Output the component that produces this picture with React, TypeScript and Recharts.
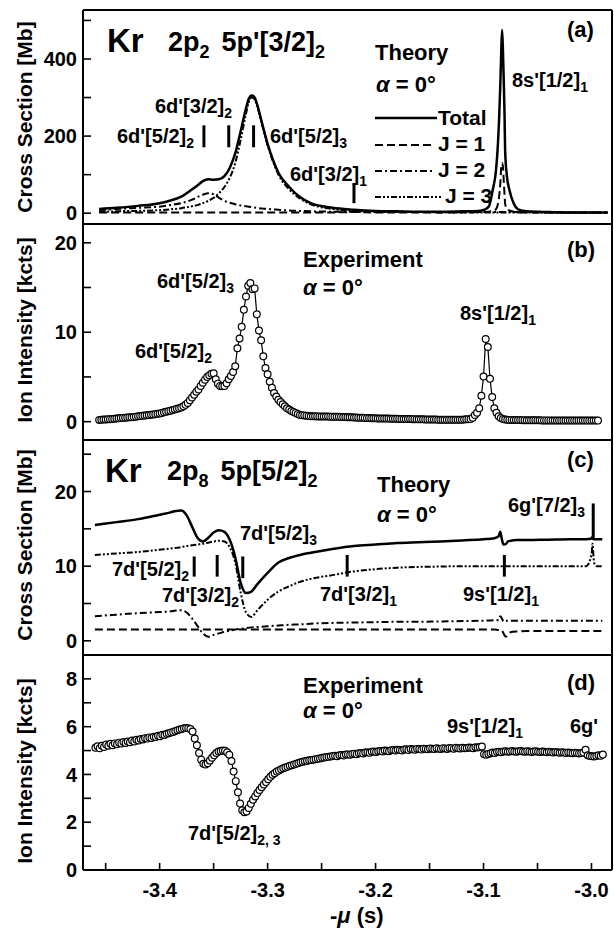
import React from "react";
import { ComposedChart, Line, XAxis, YAxis, ReferenceLine } from "recharts";

const FONT = '"Liberation Sans", Arial, Helvetica, sans-serif';
const W = 614;
const H = 933;

// shared x axis: -mu (s)
const X_DOMAIN: [number, number] = [-3.471, -2.981];
const X_TICKS = [-3.45, -3.4, -3.35, -3.3, -3.25, -3.2, -3.15, -3.1, -3.05, -3.0];

// (a) theory, Kr 2p2 5p'[3/2]2, cross section [Mb]
const aX = [
  -3.456, -3.44, -3.42, -3.4, -3.39, -3.38, -3.37, -3.365, -3.36, -3.355,
  -3.35, -3.345, -3.34, -3.335, -3.33, -3.325, -3.32, -3.3175, -3.315, -3.3125,
  -3.31, -3.305, -3.3, -3.295, -3.29, -3.28, -3.27, -3.26, -3.24, -3.22,
  -3.2, -3.18, -3.16, -3.14, -3.12, -3.105, -3.099, -3.095, -3.0915, -3.0885,
  -3.087, -3.0855, -3.0844, -3.0836, -3.0828, -3.082, -3.0812, -3.0805, -3.08, -3.0785,
  -3.076, -3.072, -3.068, -3.06, -3.04, -3.02, -3.0, -2.985,
];
const aTotal = [
  11, 14, 19, 26, 33, 43, 62, 72, 83, 88,
  87, 88, 96, 118, 155, 212, 272, 296, 305, 302,
  285, 232, 180, 138, 105, 68, 42, 26, 14, 9,
  6, 5, 4, 4, 5, 6, 9, 18, 60, 110,
  164, 250, 337, 420, 475, 420, 337, 250, 164, 100,
  60, 25, 10, 5, 3, 2, 2, 2,
];
const aJ1 = [
  2, 2, 2, 2, 2, 2, 2, 2, 2, 2,
  2, 2, 2, 2, 2, 2, 2, 2, 2, 2,
  2, 2, 2, 2, 2, 2, 2, 2, 2, 3,
  2, 2, 2, 2, 2, 3, 3, 4, 6, 10,
  20, 45, 80, 120, 130, 120, 80, 45, 25, 12,
  7, 4, 3, 2, 2, 2, 2, 2,
];
const aJ2 = [
  8, 11, 14, 17, 21, 26, 35, 42, 48, 52,
  49, 40, 32, 27, 23, 20, 18, 17, 16, 15,
  14, 12, 11, 10, 9, 7, 6, 5, 4, 4,
  3, 3, 3, 3, 3, 3, 3, 3, 3, 3,
  3, 3, 3, 3, 3, 3, 3, 3, 3, 3,
  3, 3, 3, 3, 3, 2, 2, 2,
];
const aJ3 = [
  3, 5, 6, 8, 10, 13, 18, 21, 26, 32,
  40, 52, 68, 92, 130, 190, 258, 288, 300, 297,
  280, 228, 176, 134, 100, 62, 38, 23, 11, 6,
  4, 3, 3, 2, 2, 2, 2, 2, 2, 2,
  2, 2, 2, 2, 2, 2, 2, 2, 2, 2,
  2, 2, 2, 2, 1, 1, 1, 1,
];
const aMarkX = [-3.359, -3.336, -3.313, -3.22];
const aMarkLo = [171, 171, 171, 26];
const aMarkHi = [228, 228, 228, 78];

// (b) experiment, ion intensity [kcts], sampled every 0.002 from -3.456
const B_X0 = -3.456;
const bIon = [
  0.2, 0.22, 0.23, 0.25, 0.26, 0.28, 0.3, 0.32, 0.35, 0.37,
  0.4, 0.42, 0.44, 0.46, 0.48, 0.5, 0.52, 0.56, 0.6, 0.63,
  0.66, 0.69, 0.72, 0.75, 0.78, 0.8, 0.84, 0.88, 0.92, 0.98,
  1.04, 1.1, 1.16, 1.23, 1.3, 1.36, 1.43, 1.5, 1.58, 1.72,
  1.88, 2.1, 2.4, 2.7, 3.0, 3.35, 3.6, 4.0, 4.35, 4.7,
  5.0, 5.2, 5.35, 5.4, 4.75, 4.25, 4.0, 3.95, 4.0, 4.3,
  4.75, 5.1, 5.55, 6.2, 8.2, 9.3, 10.6, 12.5, 14.0, 15.2,
  15.5, 14.8, 14.9, 12.0, 10.2, 9.1, 7.3, 6.0, 5.3, 4.45,
  3.8, 3.2, 2.8, 2.45, 2.2, 1.95, 1.72, 1.5, 1.35, 1.2,
  1.08, 0.98, 0.85, 0.75, 0.72, 0.7, 0.67, 0.64, 0.61, 0.6,
  0.6, 0.59, 0.59, 0.58, 0.58, 0.57, 0.57, 0.56, 0.56, 0.55,
  0.55, 0.54, 0.53, 0.52, 0.51, 0.5, 0.49, 0.48, 0.47, 0.46,
  0.45, 0.44, 0.43, 0.42, 0.41, 0.4, 0.38, 0.38, 0.37, 0.36,
  0.36, 0.35, 0.35, 0.34, 0.34, 0.33, 0.33, 0.32, 0.32, 0.31,
  0.3, 0.3, 0.3, 0.29, 0.29, 0.28, 0.28, 0.27, 0.27, 0.26,
  0.26, 0.25, 0.25, 0.24, 0.24, 0.23, 0.23, 0.22, 0.22, 0.22,
  0.22, 0.22, 0.22, 0.22, 0.22, 0.22, 0.22, 0.22, 0.22, 0.24,
  0.26, 0.28, 0.3, 0.45, 0.75, 1.0, 1.5, 2.9, 5.05, 9.25,
  8.35, 4.8, 2.75, 1.5, 1.0, 0.6, 0.4, 0.3, 0.25, 0.22,
  0.2, 0.2, 0.19, 0.19, 0.18, 0.18, 0.17, 0.17, 0.16, 0.16,
  0.16, 0.15, 0.15, 0.15, 0.15, 0.14, 0.14, 0.14, 0.14, 0.14,
  0.13, 0.13, 0.13, 0.13, 0.13, 0.12, 0.12, 0.12, 0.12, 0.12,
  0.12, 0.12, 0.12, 0.12, 0.12, 0.12, 0.12, 0.12, 0.12, 0.12,
  0.12, 0.12,
];

// (c) theory, Kr 2p8 5p[5/2]2, cross section [Mb]
const cX = [
  -3.46, -3.44, -3.42, -3.4, -3.39, -3.385, -3.38, -3.375, -3.37, -3.365,
  -3.36, -3.355, -3.35, -3.345, -3.34, -3.335, -3.33, -3.325, -3.32, -3.315,
  -3.31, -3.3, -3.29, -3.28, -3.27, -3.26, -3.24, -3.22, -3.2, -3.18,
  -3.16, -3.14, -3.12, -3.1, -3.09, -3.086, -3.0845, -3.083, -3.0815, -3.0795,
  -3.077, -3.075, -3.07, -3.06, -3.04, -3.02, -3.005, -3.0, -2.999, -2.998,
  -2.997, -2.995, -2.99,
];
const cTotal = [
  15.5, 15.9, 16.3, 16.9, 17.2, 17.4, 17.45, 16.8, 15.3, 13.8,
  13.3, 13.8, 14.5, 14.8, 14.6, 13.5, 11.2, 7.8, 6.4, 6.6,
  7.5, 9.1, 10.5, 11.1, 11.5, 11.8, 12.3, 12.7, 12.9, 13.1,
  13.2, 13.3, 13.45, 13.6, 13.75, 14.0, 14.6, 13.6, 12.9, 12.95,
  13.35, 13.4, 13.5, 13.5, 13.55, 13.6, 13.6, 13.7, 13.9, 13.6,
  13.6, 13.6, 13.6,
];
const cJ1 = [
  1.5, 1.5, 1.5, 1.5, 1.5, 1.5, 1.5, 1.5, 1.5, 1.5,
  1.5, 1.5, 1.5, 1.5, 1.5, 1.5, 1.5, 1.5, 1.5, 1.5,
  1.5, 1.5, 1.5, 1.5, 1.5, 1.5, 1.5, 1.5, 1.5, 1.5,
  1.5, 1.5, 1.5, 1.5, 1.5, 1.45, 1.45, 1.4, 1.0, 0.55,
  0.9, 1.15, 1.25, 1.3, 1.3, 1.3, 1.3, 1.3, 1.3, 1.3,
  1.3, 1.3, 1.3,
];
const cJ2 = [
  3.3, 3.5, 3.7, 3.85, 3.95, 4.05, 4.1, 3.8, 3.0, 2.0,
  1.0, 0.55, 0.8, 1.0, 1.2, 1.35, 1.5, 1.6, 1.7, 1.8,
  1.85, 1.95, 2.05, 2.15, 2.2, 2.3, 2.4, 2.45, 2.5, 2.55,
  2.55, 2.6, 2.65, 2.7, 2.75, 2.8, 3.3, 3.0, 2.6, 2.7,
  2.7, 2.7, 2.7, 2.7, 2.7, 2.7, 2.7, 2.7, 2.7, 2.7,
  2.7, 2.7, 2.7,
];
const cJ3 = [
  11.5, 11.7, 11.9, 12.2, 12.35, 12.45, 12.55, 12.7, 12.8, 12.9,
  13.0, 13.15, 13.3, 13.4, 13.3, 12.5, 10.5, 6.5, 3.8, 3.2,
  4.0, 5.5, 6.6, 7.3, 7.9, 8.3, 8.8, 9.3, 9.6, 9.8,
  9.9, 9.95, 10.0, 10.0, 10.0, 10.0, 10.0, 10.0, 10.0, 10.0,
  10.0, 10.0, 10.0, 10.0, 10.0, 10.0, 10.0, 11.5, 13.0, 11.0,
  10.2, 10.0, 10.0,
];
const cMarkX = [-3.368, -3.3467, -3.323, -3.2263, -3.0807, -2.9984];
const cMarkLo = [8.6, 8.6, 8.4, 8.6, 8.6, 13.5];
const cMarkHi = [11.3, 11.5, 11.3, 11.5, 11.5, 18.4];

// (d) experiment, ion intensity [kcts], sampled every 0.002 from -3.4595
const D_X0 = -3.4595;
const dIon = [
  5.12, 5.18, 5.1, 5.2, 5.15, 5.25, 5.2, 5.28, 5.22, 5.3,
  5.26, 5.33, 5.3, 5.36, 5.32, 5.38, 5.35, 5.42, 5.38, 5.45,
  5.42, 5.48, 5.46, 5.52, 5.5, 5.55, 5.53, 5.58, 5.57, 5.62,
  5.6, 5.66, 5.65, 5.7, 5.72, 5.76, 5.78, 5.82, 5.85, 5.88,
  5.9, 5.93, 5.94, 5.93, 5.9, 5.8, 5.5, 5.22, 4.9, 4.62,
  4.45, 4.42, 4.47, 4.58, 4.7, 4.8, 4.9, 4.96, 4.98, 5.0,
  4.99, 4.93, 4.82, 4.56, 4.12, 3.72, 3.25, 2.78, 2.5, 2.42,
  2.45, 2.6, 2.77, 2.94, 3.08, 3.22, 3.35, 3.46, 3.58, 3.68,
  3.8, 3.9, 3.99, 4.05, 4.12, 4.16, 4.22, 4.26, 4.29, 4.32,
  4.36, 4.39, 4.42, 4.45, 4.48, 4.51, 4.53, 4.55, 4.57, 4.59,
  4.6, 4.62, 4.64, 4.66, 4.67, 4.7, 4.71, 4.73, 4.74, 4.75,
  4.77, 4.78, 4.76, 4.8, 4.81, 4.79, 4.83, 4.84, 4.82, 4.86,
  4.87, 4.85, 4.89, 4.9, 4.88, 4.92, 4.93, 4.91, 4.95, 4.96,
  4.94, 4.97, 4.98, 4.96, 5.0, 4.99, 4.97, 5.01, 5.02, 5.0,
  5.03, 5.02, 5.0, 5.04, 5.05, 5.02, 5.06, 5.05, 5.03, 5.07,
  5.06, 5.04, 5.08, 5.07, 5.05, 5.09, 5.08, 5.06, 5.1, 5.08,
  5.07, 5.1, 5.09, 5.07, 5.11, 5.1, 5.08, 5.12, 5.1, 5.09,
  5.12, 5.1, 5.11, 5.13, 5.12, 5.1, 5.14, 5.13, 5.15, 5.17,
  4.85, 4.82, 4.86, 4.89, 4.92, 4.9, 4.94, 4.95, 4.93, 4.96,
  4.97, 4.95, 4.96, 4.98, 4.96, 4.95, 4.97, 4.98, 4.96, 4.95,
  4.97, 4.96, 4.94, 4.96, 4.97, 4.95, 4.94, 4.96, 4.95, 4.93,
  4.95, 4.94, 4.92, 4.94, 4.93, 4.91, 4.93, 4.92, 4.9, 4.92,
  4.91, 4.89, 4.91, 4.9, 4.88, 4.9, 4.92, 5.03, 4.8, 4.77,
  4.76, 4.75, 4.77, 4.8, 4.78, 4.83,
];
const STEP = 0.002;

const aRows = aX.map((x, i) => ({ x, total: aTotal[i], j1: aJ1[i], j2: aJ2[i], j3: aJ3[i] }));
const cRows = cX.map((x, i) => ({ x, total: cTotal[i], j1: cJ1[i], j2: cJ2[i], j3: cJ3[i] }));
const bRows = bIon.map((v, i) => ({ x: B_X0 + i * STEP, ion: v }));
const dRows = dIon.map((v, i) => ({ x: D_X0 + i * STEP, ion: v }));

type PanelCfg = {
  top: number;
  bottom: number;
  yDomain: [number, number];
  yTicks: number[];
  labelEvery: number;
  xLabels?: boolean;
};

const PA: PanelCfg = { top: 10, bottom: 224, yDomain: [-28, 527], yTicks: [0, 100, 200, 300, 400, 500], labelEvery: 200 };
const PB: PanelCfg = { top: 224, bottom: 440, yDomain: [-2.05, 22.1], yTicks: [0, 5, 10, 15, 20], labelEvery: 10 };
const PC: PanelCfg = { top: 440, bottom: 655, yDomain: [-1.9, 26.9], yTicks: [0, 5, 10, 15, 20, 25], labelEvery: 10 };
const PD: PanelCfg = { top: 655, bottom: 870, yDomain: [0, 9], yTicks: [0, 1, 2, 3, 4, 5, 6, 7, 8], labelEvery: 2, xLabels: true };

const AXIS_LINE = { stroke: "#000", strokeWidth: 2 };
const TICK_LINE = { stroke: "#000", strokeWidth: 1.6 };
const TICK_TEXT = { fill: "#000", fontSize: 20, fontWeight: 700, fontFamily: FONT };

const DASH_J1 = "8 4";
const DASH_J2 = "7 3 2 3";
const DASH_J3 = "6 2 2 2 2 2";

const fmtX = (v: number) => (Math.abs(v * 10 - Math.round(v * 10)) < 1e-6 ? v.toFixed(1) : "");

function frameAxes(p: PanelCfg) {
  const fmtY = (v: number) => (v % p.labelEvery === 0 ? String(v) : "");
  return [
    <XAxis
      key="xb"
      xAxisId="b"
      type="number"
      dataKey="x"
      domain={X_DOMAIN}
      allowDataOverflow
      ticks={X_TICKS}
      interval={0}
      height={1}
      tickSize={-7}
      tickMargin={20}
      tick={p.xLabels ? TICK_TEXT : false}
      tickFormatter={fmtX}
      axisLine={AXIS_LINE}
      tickLine={TICK_LINE}
    />,
    <XAxis
      key="xt"
      xAxisId="t"
      orientation="top"
      type="number"
      dataKey="x"
      domain={X_DOMAIN}
      allowDataOverflow
      ticks={X_TICKS}
      interval={0}
      height={1}
      tickSize={-7}
      tick={false}
      axisLine={AXIS_LINE}
      tickLine={TICK_LINE}
    />,
    <YAxis
      key="yl"
      yAxisId="l"
      type="number"
      domain={p.yDomain}
      allowDataOverflow
      ticks={p.yTicks}
      interval={0}
      width={1}
      tickSize={-8}
      tickMargin={14}
      tick={TICK_TEXT}
      tickFormatter={fmtY}
      axisLine={AXIS_LINE}
      tickLine={TICK_LINE}
    />,
    <YAxis
      key="yr"
      yAxisId="r"
      orientation="right"
      type="number"
      domain={p.yDomain}
      allowDataOverflow
      ticks={p.yTicks}
      interval={0}
      width={1}
      tickSize={-8}
      tick={false}
      axisLine={AXIS_LINE}
      tickLine={TICK_LINE}
    />,
  ];
}

function Panel({ cfg, data, children }: { cfg: PanelCfg; data: any[]; children: React.ReactNode }) {
  return (
    <div style={{ position: "absolute", left: 0, top: 0 }}>
      <ComposedChart
        width={W}
        height={H}
        data={data}
        margin={{ top: cfg.top - 1, bottom: H - cfg.bottom - 1, left: 82, right: 1 }}
      >
        {frameAxes(cfg)}
        {children}
      </ComposedChart>
    </div>
  );
}

function theoryLines() {
  return [
    <Line key="j1" xAxisId="b" yAxisId="l" type="monotone" dataKey="j1" stroke="#000" strokeWidth={2} strokeDasharray={DASH_J1} dot={false} isAnimationActive={false} />,
    <Line key="j2" xAxisId="b" yAxisId="l" type="monotone" dataKey="j2" stroke="#000" strokeWidth={2} strokeDasharray={DASH_J2} dot={false} isAnimationActive={false} />,
    <Line key="j3" xAxisId="b" yAxisId="l" type="monotone" dataKey="j3" stroke="#000" strokeWidth={2} strokeDasharray={DASH_J3} dot={false} isAnimationActive={false} />,
    <Line key="tot" xAxisId="b" yAxisId="l" type="monotone" dataKey="total" stroke="#000" strokeWidth={2.5} dot={false} isAnimationActive={false} />,
  ];
}

function markers(xs: number[], lo: number[], hi: number[]) {
  return xs.map((x, i) => (
    <ReferenceLine
      key={"m" + i}
      xAxisId="b"
      yAxisId="l"
      segment={[{ x, y: lo[i] }, { x, y: hi[i] }]}
      stroke="#000"
      strokeWidth={3}
    />
  ));
}

function expLine() {
  return (
    <Line
      xAxisId="b"
      yAxisId="l"
      type="linear"
      dataKey="ion"
      stroke="#000"
      strokeWidth={1.2}
      dot={{ r: 3.4, fill: "#fff", stroke: "#000", strokeWidth: 1.2 }}
      isAnimationActive={false}
    />
  );
}

function Lbl({ x, y, main, sub, size = 20 }: { x: number; y: number; main: string; sub?: string; size?: number }) {
  return (
    <text x={x} y={y} fontSize={size} fontWeight={700} fontFamily={FONT} fill="#000">
      {main}
      {sub && (
        <tspan fontSize={14} dy={5}>
          {sub}
        </tspan>
      )}
    </text>
  );
}

function Alpha({ x, y }: { x: number; y: number }) {
  return (
    <text x={x} y={y} fontSize={22} fontWeight={700} fontFamily={FONT} fill="#000">
      <tspan fontStyle="italic">α</tspan> = 0°
    </text>
  );
}

function Big({ x, y, text }: { x: number; y: number; text: string }) {
  return (
    <text x={x} y={y} fontSize={22} fontWeight={700} fontFamily={FONT} fill="#000">
      {text}
    </text>
  );
}

function Config({ x, y, a, b }: { x: number; y: number; a: string; b: string }) {
  return (
    <text x={x} y={y} fontSize={27} fontWeight={700} fontFamily={FONT} fill="#000">
      2p
      <tspan fontSize={18} dy={7}>{a}</tspan>
      <tspan dy={-7} dx={12}>{b}</tspan>
      <tspan fontSize={18} dy={7}>2</tspan>
    </text>
  );
}

function YTitle({ y, text }: { y: number; text: string }) {
  return (
    <text
      transform={`translate(32, ${y}) rotate(-90)`}
      textAnchor="middle"
      fontSize={21}
      fontWeight={700}
      fontFamily={FONT}
      fill="#000"
    >
      {text}
    </text>
  );
}

function Overlay() {
  const legend = [
    { y: 118, dash: undefined, w: 2.5, label: "Total", tx: 438, ty: 125, x2: 437 },
    { y: 145, dash: DASH_J1, w: 2, label: "J = 1", tx: 438, ty: 151, x2: 435 },
    { y: 171, dash: DASH_J2, w: 2, label: "J = 2", tx: 438, ty: 177, x2: 435 },
    { y: 197, dash: DASH_J3, w: 2, label: "J = 3", tx: 445, ty: 203, x2: 441 },
  ];
  return (
    <svg width={W} height={H} style={{ position: "absolute", left: 0, top: 0, pointerEvents: "none" }}>
      {/* axis titles */}
      <YTitle y={117} text="Cross Section [Mb]" />
      <YTitle y={330} text="Ion Intensity [kcts]" />
      <YTitle y={545} text="Cross Section [Mb]" />
      <YTitle y={771} text="Ion Intensity [kcts]" />
      <text x={330} y={923} fontSize={22} fontWeight={700} fontFamily={FONT} fill="#000">
        -<tspan fontStyle="italic">μ</tspan> (s)
      </text>

      {/* (a) */}
      <text x={107} y={52} fontSize={33} fontWeight={700} fontFamily={FONT} fill="#000">Kr</text>
      <Config x={168} y={51} a="2" b="5p'[3/2]" />
      <Big x={375} y={60} text="Theory" />
      <Alpha x={376} y={92} />
      <Big x={567} y={37} text="(a)" />
      <Lbl x={512} y={87} main="8s'[1/2]" sub="1" />
      <Lbl x={155} y={113} main="6d'[3/2]" sub="2" />
      <Lbl x={117} y={143} main="6d'[5/2]" sub="2" />
      <Lbl x={270} y={143} main="6d'[5/2]" sub="3" />
      <Lbl x={290} y={181} main="6d'[3/2]" sub="1" />
      {legend.map((l) => (
        <g key={l.label}>
          <line x1={375} x2={l.x2} y1={l.y} y2={l.y} stroke="#000" strokeWidth={l.w} strokeDasharray={l.dash} />
          <text x={l.tx} y={l.ty} fontSize={21} fontWeight={700} fontFamily={FONT} fill="#000">
            {l.label}
          </text>
        </g>
      ))}

      {/* (b) */}
      <Big x={303} y={267} text="Experiment" />
      <Alpha x={303} y={295} />
      <Big x={567} y={257} text="(b)" />
      <Lbl x={460} y={320} main="8s'[1/2]" sub="1" />
      <Lbl x={157} y={288} main="6d'[5/2]" sub="3" />
      <Lbl x={135} y={358} main="6d'[5/2]" sub="2" />

      {/* (c) */}
      <text x={105} y={482} fontSize={33} fontWeight={700} fontFamily={FONT} fill="#000">Kr</text>
      <Config x={167} y={480} a="8" b="5p[5/2]" />
      <Big x={377} y={492} text="Theory" />
      <Alpha x={377} y={522} />
      <Big x={567} y={467} text="(c)" />
      <Lbl x={508} y={512} main="6g'[7/2]" sub="3" />
      <Lbl x={240} y={540} main="7d'[5/2]" sub="3" />
      <Lbl x={112} y={576} main="7d'[5/2]" sub="2" />
      <Lbl x={162} y={602} main="7d'[3/2]" sub="2" />
      <Lbl x={320} y={601} main="7d'[3/2]" sub="1" />
      <Lbl x={463} y={601} main="9s'[1/2]" sub="1" />

      {/* (d) */}
      <Big x={303} y={693} text="Experiment" />
      <Alpha x={303} y={718} />
      <Big x={567} y={690} text="(d)" />
      <Lbl x={447} y={733} main="9s'[1/2]" sub="1" />
      <Lbl x={570} y={733} main="6g'" />
      <Lbl x={188} y={840} main="7d'[5/2]" sub="2, 3" />
    </svg>
  );
}

export default function App() {
  return (
    <div style={{ position: "absolute", left: 0, top: 0, width: W, height: H, background: "#fff", overflow: "hidden" }}>
      <Panel cfg={PA} data={aRows}>
        {theoryLines()}
        {markers(aMarkX, aMarkLo, aMarkHi)}
      </Panel>
      <Panel cfg={PB} data={bRows}>
        {expLine()}
      </Panel>
      <Panel cfg={PC} data={cRows}>
        {theoryLines()}
        {markers(cMarkX, cMarkLo, cMarkHi)}
      </Panel>
      <Panel cfg={PD} data={dRows}>
        {expLine()}
      </Panel>
      <Overlay />
    </div>
  );
}
